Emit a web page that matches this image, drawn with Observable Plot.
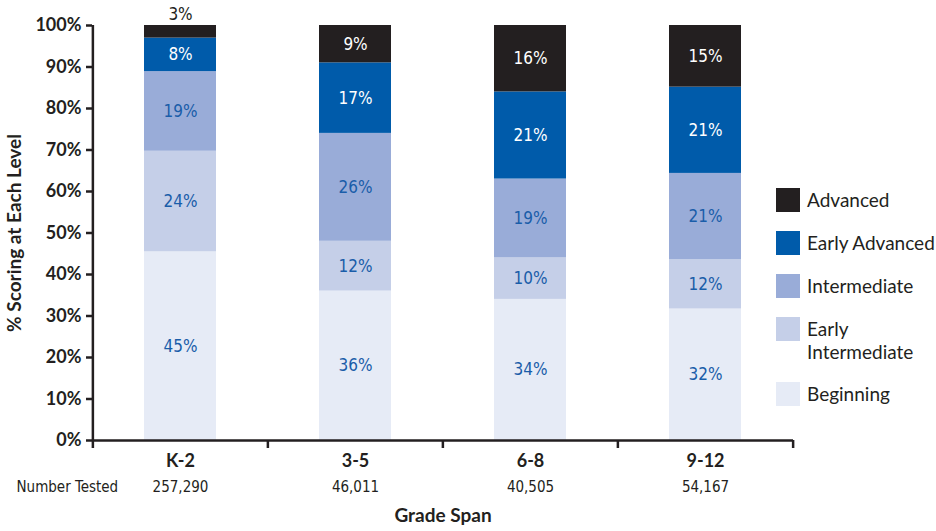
<!DOCTYPE html>
<html>
<head>
<meta charset="utf-8">
<script src="https://cdn.jsdelivr.net/npm/d3@7"></script>
<script src="https://cdn.jsdelivr.net/npm/@observablehq/plot@0.6"></script>
<style>
  body { margin: 0; background: #fff; }
  #chart { position: relative; width: 936px; height: 531px; background: #fff; }
  #chart svg [font-family^="DejaVu"] { font-stretch: condensed; }
  .legend { position: absolute; left: 776px; top: 188px; display: flex; flex-direction: column; gap: 19px;
            font-family: Lato, "Open Sans", sans-serif; font-size: 19px; color: #231f20; }
  .legend .row { display: flex; align-items: flex-start; }
  .legend .sw { width: 24px; height: 24px; flex: none; }
  .legend .lab { margin-left: 7px; line-height: 23px; width: 145px; }
</style>
</head>
<body>
<div id="chart"></div>
<script>
// Grade spans and the number of students tested in each
const grades = ["K-2", "3-5", "6-8", "9-12"];
const numberTested = [257290, 46011, 40505, 54167];

// Proficiency levels, bottom of the stack first
const levels = ["Beginning", "Early Intermediate", "Intermediate", "Early Advanced", "Advanced"];
const colors = ["#e6ebf6", "#c5cfe8", "#99acd8", "#005baa", "#231f20"];

// Percent scoring at each level, one value per grade span
const beginning         = [45, 36, 34, 32];
const earlyIntermediate = [24, 12, 10, 12];
const intermediate      = [19, 26, 19, 21];
const earlyAdvanced     = [8, 17, 21, 21];
const advanced          = [3, 9, 16, 15];

const series = [beginning, earlyIntermediate, intermediate, earlyAdvanced, advanced];
const rows = grades.flatMap((grade, i) =>
  levels.map((level, j) => ({grade, level, value: series[j][i]})));
const counts = grades.map((grade, i) => ({grade, n: numberTested[i]}));

const darkLevels = ["Early Advanced", "Advanced"];
const ink = "#231f20";
const labelBlue = "#1a5da9";
const narrow = "DejaVu Sans, sans-serif";
const bold = "Lato, 'Open Sans', sans-serif";

const W = 936, H = 531, mL = 92, mR = 143, mT = 25, mB = 91;
const halfStep = (W - mL - mR) / grades.length / 2;

const stack = (o) => ({x: "grade", y: "value", z: "level", order: levels, offset: "normalize", ...o});
const pct = d3.format(".0%");

const chart = Plot.plot({
  width: W, height: H,
  marginLeft: mL, marginRight: mR, marginTop: mT, marginBottom: mB,
  x: {domain: grades, paddingInner: 0.59, paddingOuter: 0.295},
  y: {domain: [0, 1]},
  color: {domain: levels, range: colors},
  style: {fontFamily: bold, color: ink, background: "#fff"},
  marks: [
    Plot.barY(rows, Plot.stackY(stack({fill: "level"}))),

    // value labels inside the segments
    Plot.text(rows, Plot.stackY(stack({
      text: d => !darkLevels.includes(d.level) && d.value >= 5 ? d.value + "%" : null,
      fill: labelBlue, fontFamily: narrow, fontSize: 17
    }))),
    Plot.text(rows, Plot.stackY(stack({
      text: d => darkLevels.includes(d.level) && d.value >= 5 ? d.value + "%" : null,
      fill: "#fff", fontFamily: narrow, fontSize: 17
    }))),
    // thin segments get their label above the bar
    Plot.text(rows, Plot.stackY2(stack({
      text: d => d.value < 5 ? d.value + "%" : null,
      fill: ink, fontFamily: narrow, fontSize: 17, dy: -11
    }))),

    // axes
    Plot.axisY({
      ticks: d3.range(0, 11).map(i => i / 10), tickFormat: pct,
      tickSize: 6, tickPadding: 5, stroke: ink, strokeWidth: 2.5, fill: ink,
      fontSize: 18, fontWeight: "bold", fontFamily: bold, label: null
    }),
    Plot.axisX({
      tickSize: 0, tickPadding: 14, fill: ink,
      fontSize: 18, fontWeight: "bold", fontFamily: bold, label: null
    }),
    Plot.ruleY([0], {stroke: ink, strokeWidth: 2.5}),
    Plot.ruleX([grades[0]], {dx: -halfStep, y1: 1, y2: 0, insetBottom: -8, stroke: ink, strokeWidth: 2.5}),
    Plot.ruleX(grades.slice(1), {dx: -halfStep, y1: 0, y2: 0, insetBottom: -8, stroke: ink, strokeWidth: 2.5}),
    Plot.ruleX(grades.slice(-1), {dx: halfStep, y1: 0, y2: 0, insetBottom: -8, stroke: ink, strokeWidth: 2.5}),

    // number tested row
    Plot.text(["Number Tested"], {text: d => d, frameAnchor: "bottom-left", dx: -76, dy: 51,
      textAnchor: "start", fill: ink, fontFamily: narrow, fontSize: 15}),
    Plot.text(counts, {x: "grade", text: d => d3.format(",")(d.n), frameAnchor: "bottom", dy: 51,
      fill: ink, fontFamily: narrow, fontSize: 15}),

    // axis titles
    Plot.text(["Grade Span"], {text: d => d, frameAnchor: "bottom", dy: 81,
      fill: ink, fontFamily: bold, fontWeight: "bold", fontSize: 19}),
    Plot.text(["% Scoring at Each Level"], {text: d => d, frameAnchor: "left", textAnchor: "middle",
      rotate: -90, dx: -78, fill: ink, fontFamily: bold, fontWeight: "bold", fontSize: 19})
  ]
});

const root = document.getElementById("chart");
root.appendChild(chart);

// legend, top of the stack first
const legend = document.createElement("div");
legend.className = "legend";
levels.slice().reverse().forEach(level => {
  const row = document.createElement("div");
  row.className = "row";
  const sw = document.createElement("div");
  sw.className = "sw";
  sw.style.background = colors[levels.indexOf(level)];
  const lab = document.createElement("div");
  lab.className = "lab";
  lab.textContent = level;
  row.append(sw, lab);
  legend.appendChild(row);
});
root.appendChild(legend);
</script>
</body>
</html>
